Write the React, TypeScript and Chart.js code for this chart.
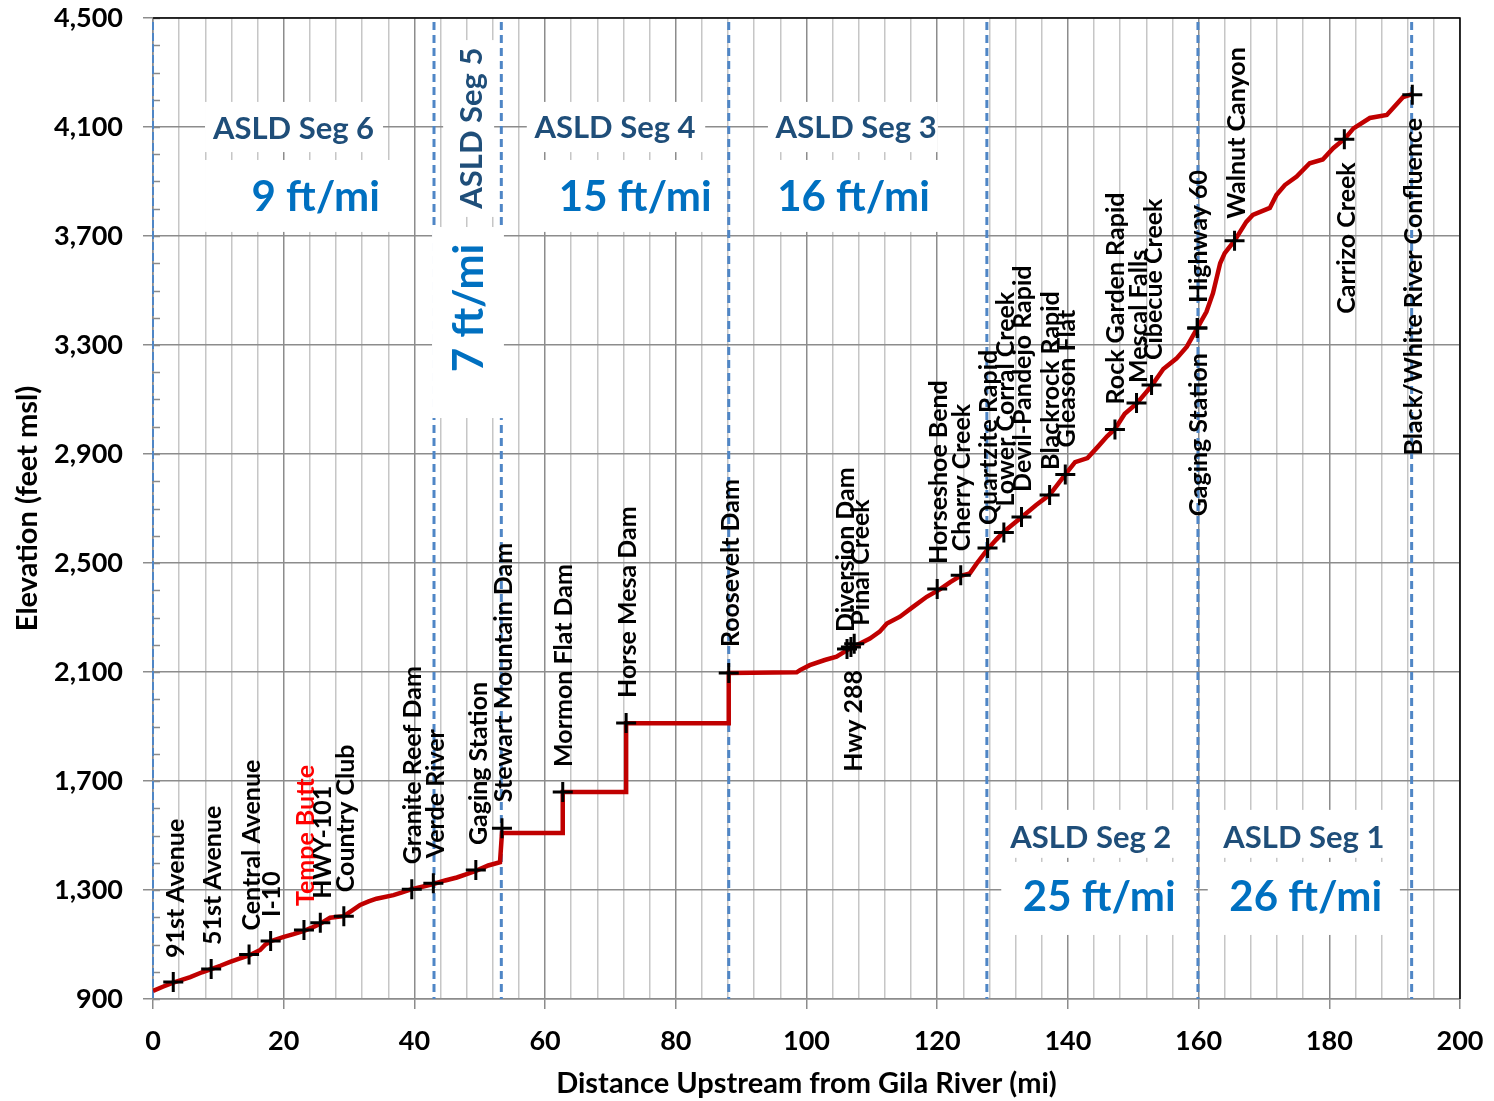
import React, { useEffect, useRef } from 'react';
import { Chart, registerables } from 'chart.js';

Chart.register(...registerables);

// ---- River profile (distance upstream in miles, elevation in feet msl) ----
const profileMiles = [
  0, 1.5, 3.1, 5.7, 7.5, 8.9, 10.3, 11.8, 13.2, 14.7, 16.4, 17.2, 18.0, 19.9, 21.5, 23.1, 24.4, 25.6,
  27.1, 29.2, 30.5, 31.7, 33.0, 34.2, 36.8, 38.0, 39.6, 41.2, 42.9, 44.7, 46.5, 48.0, 49.4, 51.3, 53.1,
  53.4, 62.7, 62.7, 72.4, 72.4, 88.1, 88.1, 98.5, 99.0, 100.5, 102.8, 104.6, 106.4, 108.2, 109.7, 111.2,
  112.3, 114.3, 116.3, 118.4, 120.4, 122.0, 123.5, 125.0, 126.1, 127.7, 129.0, 130.2, 131.5, 132.9,
  135.1, 137.2, 138.5, 139.7, 141.1, 143.0, 144.6, 146.0, 147.2, 148.7, 150.5, 152.8, 154.6, 156.6,
  158.2, 159.8, 161.2, 162.2, 163.3, 164.0, 165.5, 167.3, 168.3, 170.9, 171.9, 173.2, 175.0, 177.0,
  179.0, 180.6, 182.4, 183.7, 186.2, 188.8, 191.3, 192.6,
];
const profileElev = [
  930, 945, 960, 980, 998, 1010, 1022, 1036, 1048, 1060, 1080, 1100, 1112, 1127, 1138, 1150, 1163, 1176,
  1198, 1204, 1225, 1245, 1258, 1268, 1281, 1290, 1303, 1312, 1322, 1335, 1346, 1358, 1370, 1390, 1402,
  1509, 1509, 1660, 1660, 1912, 1912, 2096, 2099, 2107, 2125, 2144, 2156, 2183, 2205, 2223, 2248,
  2278, 2303, 2339, 2376, 2403, 2430, 2452, 2462, 2500, 2550, 2585, 2615, 2640, 2668,
  2712, 2750, 2790, 2828, 2870, 2885, 2927, 2965, 2992, 3048, 3085, 3150, 3212, 3250,
  3294, 3362, 3422, 3490, 3600, 3637, 3683, 3752, 3777, 3803, 3850, 3887, 3918, 3967,
  3981, 4022, 4058, 4095, 4133, 4144, 4210, 4220,
];

// ---- Landmarks ----
const stationNames = [
  '91st Avenue', '51st Avenue', 'Central Avenue', 'I-10', 'Tempe Butte', 'HWY-101', 'Country Club',
  'Granite Reef Dam', 'Verde River', 'Gaging Station', 'Stewart Mountain Dam', 'Mormon Flat Dam',
  'Horse Mesa Dam', 'Roosevelt Dam', 'Diversion Dam', 'Hwy 288', 'Pinal Creek', 'Horseshoe Bend',
  'Cherry Creek', 'Quartzite Rapid', 'Lower Corral Creek', 'Devil-Pandejo Rapid', 'Blackrock Rapid',
  'Gleason Flat', 'Rock Garden Rapid', 'Mescal Falls', 'Cibecue Creek', 'Highway 60', 'Gaging Station',
  'Walnut Canyon', 'Carrizo Creek', 'Black/White River Confluence',
];
const stationMiles = [
  3.1, 8.9, 14.7, 18.0, 23.1, 25.6, 29.2, 39.6, 42.9, 49.4, 53.4, 62.7, 72.4, 88.1, 106.2, 106.8, 107.3,
  120.0, 123.6, 127.7, 130.2, 132.9, 137.2, 139.6, 147.2, 150.5, 152.8, 159.8, 159.8, 165.5, 182.3, 192.7,
];
const stationElev = [
  962, 1010, 1063, 1113, 1153, 1180, 1204, 1303, 1325, 1373, 1527, 1660, 1913, 2096, 2184, 2192, 2204,
  2405, 2455, 2555, 2612, 2669, 2750, 2825, 2990, 3087, 3153, 3362, 3362, 3683, 4055, 4218,
];

// label placement (side of marker, horizontal shift px, gap px) and colour
const labelSide = [
  'up', 'up', 'up', 'up', 'up', 'up', 'up', 'up', 'up', 'up', 'up', 'up', 'up', 'up', 'up', 'down', 'up',
  'up', 'up', 'up', 'up', 'up', 'up', 'up', 'up', 'up', 'up', 'up', 'down', 'up', 'down', 'down',
];
const labelShift = [
  2, 1, 2, 0, 1, 2, 1, 0, 2, 2, 1, 0, 1, 1, -2, 2, 6, 1, 0, 0, 1, 0, 0, 1, 0, 1, 1, 1, 1, 1, 2, 1,
];
const labelGap = [
  24, 24, 24, 24, 24, 24, 24, 25, 25, 25, 26, 25, 25, 26, 17, 23, 18, 25, 24, 23, 26, 25, 25, 27, 25, 20, 25,
  25, 25, 22, 23, 23,
];
const labelColor = stationNames.map((n) => (n === 'Tempe Butte' ? '#FF0000' : '#000000'));

// ---- Segments ----
const segmentBoundaries = [0, 43.0, 53.3, 88.1, 127.6, 159.9, 192.6];
const segmentNames = ['ASLD Seg 6', 'ASLD Seg 5', 'ASLD Seg 4', 'ASLD Seg 3', 'ASLD Seg 2', 'ASLD Seg 1'];
const segmentSlopes = ['9 ft/mi', '7 ft/mi', '15 ft/mi', '16 ft/mi', '25 ft/mi', '26 ft/mi'];

// text-box layout in data units (miles, feet)
const segNamePos = [
  { x: 21.5, y: 4093, rot: false },
  { x: 48.8, y: 4096, rot: true },
  { x: 70.7, y: 4096, rot: false },
  { x: 107.6, y: 4096, rot: false },
  { x: 143.5, y: 1491, rot: false },
  { x: 176.1, y: 1491, rot: false },
];
const segSlopePos = [
  { x: 24.9, y: 3843, rot: false },
  { x: 48.4, y: 3436, rot: true },
  { x: 73.8, y: 3843, rot: false },
  { x: 107.2, y: 3843, rot: false },
  { x: 144.8, y: 1271, rot: false },
  { x: 176.4, y: 1271, rot: false },
];
const whiteBoxes = [
  [7.96, 35.2, 4192, 4008], [7.96, 37.5, 3979, 3715],
  [44.4, 52.2, 4419, 3770], [42.7, 53.7, 3733, 3032],
  [57.2, 84.5, 4192, 4008], [56.2, 87.7, 3979, 3715],
  [94.1, 120.1, 4192, 4008], [92.4, 122.0, 3979, 3715],
  [129.8, 159.3, 1594, 1418], [129.8, 159.3, 1403, 1135],
  [161.4, 190.8, 1594, 1418], [161.4, 190.8, 1403, 1135],
];

const xMin = 0, xMax = 200, xStep = 4, xMajor = 20;
const yMin = 900, yMax = 4500, yStep = 400, yMinorStep = 100;

const FONT = 'Lato, "Open Sans", sans-serif';

const overlayPlugin = {
  id: 'overlay',
  beforeDatasetsDraw(chart: any) {
    const { ctx, chartArea, scales } = chart;
    const xs = scales.x, ys = scales.y;
    ctx.save();
    // minor y ticks (inside)
    ctx.strokeStyle = '#8a8a8a';
    ctx.lineWidth = 1.5;
    for (let v = yMin; v <= yMax; v += yMinorStep) {
      const py = Math.round(ys.getPixelForValue(v)) + 0.5;
      ctx.beginPath();
      ctx.moveTo(chartArea.left, py);
      ctx.lineTo(chartArea.left + 7, py);
      ctx.stroke();
    }
    // segment boundaries
    ctx.strokeStyle = '#4F86C6';
    segmentBoundaries.forEach((m, i) => {
      const px = xs.getPixelForValue(m);
      ctx.lineWidth = i === 0 ? 2 : 3;
      ctx.setLineDash(i === 0 ? [8, 3] : [8, 5]);
      ctx.beginPath();
      ctx.moveTo(px, chartArea.top + 4);
      ctx.lineTo(px, chartArea.bottom);
      ctx.stroke();
    });
    ctx.setLineDash([]);
    // white text boxes
    ctx.fillStyle = '#ffffff';
    whiteBoxes.forEach(([x0, x1, y0, y1]) => {
      const l = xs.getPixelForValue(x0), r = xs.getPixelForValue(x1);
      const t = ys.getPixelForValue(y0), b = ys.getPixelForValue(y1);
      ctx.fillRect(l, t, r - l, b - t);
    });
    // segment texts
    const drawText = (txt: string, pos: any, font: string, color: string) => {
      const px = xs.getPixelForValue(pos.x), py = ys.getPixelForValue(pos.y);
      ctx.save();
      ctx.translate(px, py);
      if (pos.rot) ctx.rotate(-Math.PI / 2);
      ctx.font = font;
      ctx.fillStyle = color;
      ctx.textAlign = 'center';
      ctx.textBaseline = 'middle';
      ctx.fillText(txt, 0, 0);
      ctx.restore();
    };
    segmentNames.forEach((s, i) => drawText(s, segNamePos[i], `bold 31px ${FONT}`, '#1F4E79'));
    segmentSlopes.forEach((s, i) => drawText(s, segSlopePos[i], `bold 42px ${FONT}`, '#0070C0'));
    ctx.restore();
  },
  afterDatasetsDraw(chart: any) {
    const { ctx, chartArea, scales } = chart;
    const xs = scales.x, ys = scales.y;
    ctx.save();
    ctx.font = `bold 25px ${FONT}`;
    ctx.textBaseline = 'middle';
    stationNames.forEach((name, i) => {
      const px = xs.getPixelForValue(stationMiles[i]) + labelShift[i];
      const py = ys.getPixelForValue(stationElev[i]);
      const up = labelSide[i] === 'up';
      ctx.save();
      ctx.translate(px, up ? py - labelGap[i] : py + labelGap[i]);
      ctx.rotate(-Math.PI / 2);
      ctx.textAlign = up ? 'left' : 'right';
      ctx.fillStyle = labelColor[i];
      ctx.fillText(name, 0, 1);
      ctx.restore();
    });
    // top & right border
    ctx.strokeStyle = '#000000';
    ctx.lineWidth = 1.5;
    ctx.beginPath();
    ctx.moveTo(chartArea.left, chartArea.top);
    ctx.lineTo(chartArea.right, chartArea.top);
    ctx.lineTo(chartArea.right, chartArea.bottom);
    ctx.stroke();
    ctx.restore();
  },
};

export default function App() {
  const canvasRef = useRef<HTMLCanvasElement | null>(null);

  useEffect(() => {
    document.body.style.margin = '0';
    document.body.style.overflow = 'hidden';
    const canvas = canvasRef.current;
    if (!canvas) return;
    const profile = profileMiles.map((m, i) => ({ x: m, y: profileElev[i] }));
    const stations = stationMiles.map((m, i) => ({ x: m, y: stationElev[i] }));
    const chart = new Chart(canvas, {
      type: 'line',
      data: {
        datasets: [
          {
            label: 'Stations',
            data: stations,
            showLine: false,
            pointStyle: 'cross',
            pointRadius: 10,
            pointBorderWidth: 3,
            pointBorderColor: '#000000',
            pointBackgroundColor: '#000000',
            order: 0,
          },
          {
            label: 'Profile',
            data: profile,
            borderColor: '#C00000',
            borderWidth: 4.5,
            pointRadius: 0,
            tension: 0,
            fill: false,
            order: 1,
          },
        ],
      },
      options: {
        animation: false,
        responsive: false,
        maintainAspectRatio: false,
        layout: { padding: { left: 0, right: 34, top: 18, bottom: 0 } },
        plugins: { legend: { display: false }, tooltip: { enabled: false } },
        scales: {
          x: {
            type: 'linear',
            min: xMin,
            max: xMax,
            afterFit: (s: any) => {
              s.height = 102;
              s.paddingLeft = 0;
              s.paddingRight = 0;
            },
            ticks: {
              stepSize: xStep,
              autoSkip: false,
              maxRotation: 0,
              padding: 16,
              color: '#000000',
              font: { family: FONT, size: 27, weight: 'bold' },
              callback: (v: any) => (Number(v) % xMajor === 0 ? String(v) : ''),
            },
            grid: {
              color: (c: any) => (c.tick && c.tick.value % xMajor === 0 ? '#8c8c8c' : '#c6c6c6'),
              lineWidth: 1.5,
              tickLength: 10,
              tickColor: (c: any) => (c.tick && c.tick.value % xMajor === 0 ? '#8c8c8c' : 'rgba(0,0,0,0)'),
            },
            border: { color: '#8c8c8c', width: 1.5 },
            title: {
              display: true,
              text: 'Distance Upstream from Gila River (mi)',
              color: '#000000',
              font: { family: FONT, size: 29, weight: 'bold' },
              padding: { top: 0, bottom: 0 },
            },
          },
          y: {
            type: 'linear',
            min: yMin,
            max: yMax,
            afterFit: (s: any) => {
              s.width = 153;
              s.paddingTop = 0;
              s.paddingBottom = 0;
            },
            ticks: {
              stepSize: yStep,
              padding: 20,
              color: '#000000',
              font: { family: FONT, size: 27, weight: 'bold' },
              callback: (v: any) => Number(v).toLocaleString('en-US'),
            },
            grid: { color: '#8c8c8c', lineWidth: 1.5, tickLength: 10 },
            border: { color: '#8c8c8c', width: 1.5 },
            title: {
              display: true,
              text: 'Elevation (feet msl)',
              color: '#000000',
              font: { family: FONT, size: 29, weight: 'bold' },
              padding: { top: 10, bottom: 0 },
            },
          },
        },
      },
      plugins: [overlayPlugin],
    });
    return () => chart.destroy();
  }, []);

  return (
    <div style={{ width: 1494, height: 1101 }}>
      <canvas ref={canvasRef} width={1494} height={1101} style={{ width: 1494, height: 1101, display: 'block' }} />
    </div>
  );
}
